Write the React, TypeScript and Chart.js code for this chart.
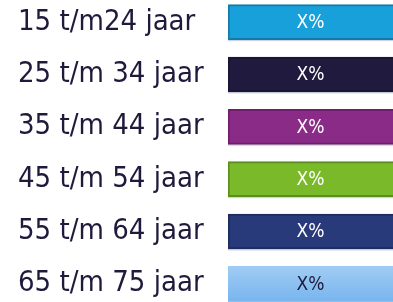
import React, { useEffect, useRef } from "react";
import { Chart, registerables } from "chart.js";

Chart.register(...registerables);

const categories = [
  "15 t/m24 jaar",
  "25 t/m 34 jaar",
  "35 t/m 44 jaar",
  "45 t/m 54 jaar",
  "55 t/m 64 jaar",
  "65 t/m 75 jaar",
];
const values = [100, 100, 100, 100, 100, 100];
const valueLabels = ["X%", "X%", "X%", "X%", "X%", "X%"];
const fillColors = ["#17a0da", "#211a3f", "#8a2b88", "#7ab929", "#293a7b", "gradient"];
const borderColors = ["#137aa9", "#1a1533", "#6d1f6c", "#5d8f1f", "#1f2c60", "rgba(0,0,0,0)"];
const labelColors = ["#ffffff", "#ffffff", "#ffffff", "#ffffff", "#ffffff", "#1e1a3c"];

const FONT = '"DejaVu Sans Condensed", "DejaVu Sans", sans-serif';

const valueLabelPlugin = {
  id: "valueLabels",
  beforeDatasetsDraw(chart: any) {
    const ctx = chart.ctx;
    const meta = chart.getDatasetMeta(0);
    ctx.save();
    ctx.fillStyle = "rgba(150,160,190,0.45)";
    meta.data.forEach((bar: any) => {
      const p = bar.getProps(["x", "y", "base", "height"], true);
      ctx.fillRect(p.base, p.y + p.height / 2, p.x - p.base, 1.5);
    });
    ctx.restore();
  },
  afterDatasetsDraw(chart: any) {
    const ctx = chart.ctx;
    const meta = chart.getDatasetMeta(0);
    ctx.save();
    ctx.font = `19px ${FONT}`;
    ctx.textAlign = "center";
    ctx.textBaseline = "middle";
    meta.data.forEach((bar: any, i: number) => {
      const p = bar.getCenterPoint();
      ctx.fillStyle = labelColors[i];
      ctx.fillText(valueLabels[i], p.x, p.y + 1);
    });
    ctx.restore();
  },
};

export default function App() {
  const ref = useRef<HTMLCanvasElement>(null);
  useEffect(() => {
    if (!ref.current) return;
    const chart = new Chart(ref.current, {
      type: "bar",
      data: {
        labels: categories,
        datasets: [
          {
            data: values,
            backgroundColor: (c: any) => {
              const col = fillColors[c.dataIndex];
              if (col !== "gradient") return col;
              const chart = c.chart;
              const ys = chart.scales && chart.scales.y;
              if (!ys || !chart.chartArea) return "#8cc1f1";
              const cy = ys.getPixelForValue(c.dataIndex);
              const g = chart.ctx.createLinearGradient(0, cy - 17.5, 0, cy + 17.5);
              g.addColorStop(0, "#a0ccf4");
              g.addColorStop(1, "#78b5ee");
              return g;
            },
            borderColor: borderColors,
            borderWidth: (c: any) => (fillColors[c.dataIndex] === "gradient" ? 0 : 2),
            borderSkipped: "right",
            barThickness: 35,
          },
        ],
      },
      options: {
        indexAxis: "y",
        animation: false,
        responsive: false,
        maintainAspectRatio: false,
        layout: { padding: { left: 18, right: 0, top: 0, bottom: 0 } },
        plugins: { legend: { display: false }, tooltip: { enabled: false } },
        scales: {
          x: { display: false, min: 0, max: 100 },
          y: {
            grid: { display: false, drawTicks: false },
            border: { display: false },
            afterFit: (s: any) => {
              s.width = 210;
              s.paddingTop = 0;
              s.paddingBottom = 0;
            },
            ticks: {
              crossAlign: "far",
              padding: 0,
              color: "#1e1a3c",
              font: { family: FONT, size: 29 },
            },
          },
        },
      },
      plugins: [valueLabelPlugin],
    });
    return () => chart.destroy();
  }, []);
  return (
    <div style={{ position: "fixed", left: 0, top: -4, width: 393, height: 314 }}>
      <canvas ref={ref} width={393} height={314} style={{ display: "block" }} />
    </div>
  );
}
